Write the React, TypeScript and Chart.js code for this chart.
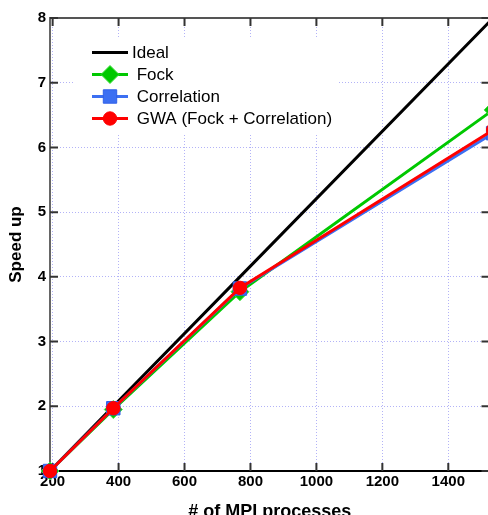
import React, { useEffect, useRef } from 'react';
import { Chart, registerables } from 'chart.js';

Chart.register(...registerables);

const processes = [192, 384, 768, 1536];
const idealSpeedup = [1, 2, 4, 8];
const fockSpeedup = [1, 1.95, 3.77, 6.58];
const correlationSpeedup = [1, 1.97, 3.82, 6.22];
const gwaSpeedup = [1, 1.97, 3.83, 6.27];
const xTickValues = [200, 400, 600, 800, 1000, 1200, 1400];
const yTickValues = [1, 2, 3, 4, 5, 6, 7, 8];
const seriesLabels = ['Ideal', ' Fock', ' Correlation', ' GWA (Fock + Correlation)'];
const seriesColors = ['#000000', '#00c800', '#3c6ff2', '#ff0000'];
const markerBorders = ['#000000', '#40e040', '#3060e8', '#ff0000'];
const markerStyles = ['none', 'rectRot', 'rect', 'circle'];
const markerRadii = [0, 9, 9.5, 6.7];

function drawMarker(ctx: CanvasRenderingContext2D, style: string, x: number, y: number, r: number, fill: string, stroke: string) {
  if (style === 'none' || r <= 0) return;
  ctx.beginPath();
  if (style === 'circle') {
    ctx.arc(x, y, r, 0, Math.PI * 2);
  } else if (style === 'rect') {
    const h = r * Math.SQRT1_2;
    ctx.rect(x - h, y - h, 2 * h, 2 * h);
  } else if (style === 'rectRot') {
    ctx.moveTo(x, y - r);
    ctx.lineTo(x + r, y);
    ctx.lineTo(x, y + r);
    ctx.lineTo(x - r, y);
    ctx.closePath();
  }
  ctx.fillStyle = fill;
  ctx.fill();
  ctx.lineWidth = 1;
  ctx.strokeStyle = stroke;
  ctx.stroke();
}

const frameAndLegend = {
  id: 'frameAndLegend',
  beforeDatasetsDraw(chart: any) {
    const ctx: CanvasRenderingContext2D = chart.ctx;
    const a = chart.chartArea;
    const xs = chart.scales.x;
    const ys = chart.scales.y;
    ctx.save();
    ctx.strokeStyle = '#555555';
    ctx.lineWidth = 2;
    ctx.beginPath();
    ctx.moveTo(a.left, a.top);
    ctx.lineTo(a.right, a.top);
    ctx.lineTo(a.right, a.bottom);
    ctx.stroke();
    const tl = 8;
    ctx.strokeStyle = '#333333';
    ctx.lineWidth = 2;
    ctx.beginPath();
    xTickValues.forEach((v) => {
      const px = xs.getPixelForValue(v);
      ctx.moveTo(px, a.bottom);
      ctx.lineTo(px, a.bottom - tl);
      ctx.moveTo(px, a.top);
      ctx.lineTo(px, a.top + tl);
    });
    yTickValues.forEach((v) => {
      const py = ys.getPixelForValue(v);
      ctx.moveTo(a.left, py);
      ctx.lineTo(a.left + tl, py);
      ctx.moveTo(a.right, py);
      ctx.lineTo(a.right - tl, py);
    });
    ctx.stroke();
    const bx = a.left + 25;
    const by = a.top + 20;
    const bw = 262;
    const bh = 95;
    ctx.fillStyle = '#ffffff';
    ctx.fillRect(bx, by, bw, bh);
    chart.data.datasets.forEach((ds: any, i: number) => {
      const cy = by + 14.5 + i * 22;
      const x0 = bx + 17;
      const x1 = bx + 53;
      ctx.strokeStyle = seriesColors[i];
      ctx.lineWidth = 3;
      ctx.beginPath();
      ctx.moveTo(x0, cy);
      ctx.lineTo(x1, cy);
      ctx.stroke();
      drawMarker(ctx, markerStyles[i], (x0 + x1) / 2, cy, markerRadii[i], seriesColors[i], markerBorders[i]);
      ctx.fillStyle = '#000000';
      ctx.font = '17px "Liberation Sans", Arial, sans-serif';
      ctx.textBaseline = 'middle';
      ctx.textAlign = 'left';
      ctx.fillText(ds.label, bx + 57, cy + 1);
    });
    ctx.restore();
  },
};

export default function App() {
  const ref = useRef<HTMLCanvasElement | null>(null);
  useEffect(() => {
    if (!ref.current) return;
    const series = [idealSpeedup, fockSpeedup, correlationSpeedup, gwaSpeedup];
    const datasets = series.map((vals, i) => ({
      label: seriesLabels[i],
      data: processes.map((p, j) => ({ x: p, y: vals[j] })),
      borderColor: seriesColors[i],
      backgroundColor: seriesColors[i],
      borderWidth: 3,
      pointStyle: markerStyles[i] === 'none' ? 'circle' : markerStyles[i],
      pointRadius: markerRadii[i],
      pointBorderColor: markerBorders[i],
      pointBorderWidth: 1,
      pointBackgroundColor: seriesColors[i],
      tension: 0,
      clip: false as any,
      order: 4 - i,
    }));
    const tickFont = { family: '"Liberation Sans", Arial, sans-serif', size: 15, weight: 'bold' as const };
    const chart = new Chart(ref.current, {
      type: 'line',
      data: { datasets },
      plugins: [frameAndLegend],
      options: {
        animation: false,
        responsive: false,
        devicePixelRatio: 1,
        layout: { padding: { top: 18, right: 7, left: 0, bottom: 0 } },
        plugins: { legend: { display: false }, tooltip: { enabled: false } },
        scales: {
          x: {
            type: 'linear',
            min: 192,
            max: 1525,
            afterBuildTicks: (s: any) => { s.ticks = xTickValues.map((v) => ({ value: v })); },
            afterFit: (s: any) => { s.height = 54; },
            grid: { color: 'rgba(160,160,245,0.8)', lineWidth: 1, drawTicks: false } as any,
            border: { display: true, color: '#000000', width: 2, dash: [1, 2] } as any,
            ticks: { padding: 2, color: '#000', font: tickFont, maxRotation: 0, autoSkip: false, callback: (v: any) => String(v) },
            title: { display: true, text: '# of MPI processes', color: '#000', font: { family: '"Liberation Sans", Arial, sans-serif', size: 18, weight: 'bold' }, padding: { bottom: 2 } },
          },
          y: {
            type: 'linear',
            min: 1,
            max: 8,
            afterBuildTicks: (s: any) => { s.ticks = yTickValues.map((v) => ({ value: v })); },
            afterFit: (s: any) => { s.width = 50; },
            grid: { color: 'rgba(160,160,245,0.8)', lineWidth: 1, drawTicks: false } as any,
            border: { display: true, color: '#666666', width: 2, dash: [1, 2] } as any,
            ticks: { padding: 4, color: '#000', font: tickFont, autoSkip: false, callback: (v: any) => String(v) },
            title: { display: true, text: 'Speed up', color: '#000', font: { family: '"Liberation Sans", Arial, sans-serif', size: 17, weight: 'bold' }, padding: { top: 6 } },
          },
        },
      },
    });
    return () => chart.destroy();
  }, []);
  return (
    <div style={{ position: 'fixed', left: 0, top: 0, width: 488, height: 515, overflow: 'hidden', background: '#fff' }}>
      <canvas ref={ref} width={500} height={525} style={{ width: 500, height: 525, display: 'block' }} />
    </div>
  );
}
